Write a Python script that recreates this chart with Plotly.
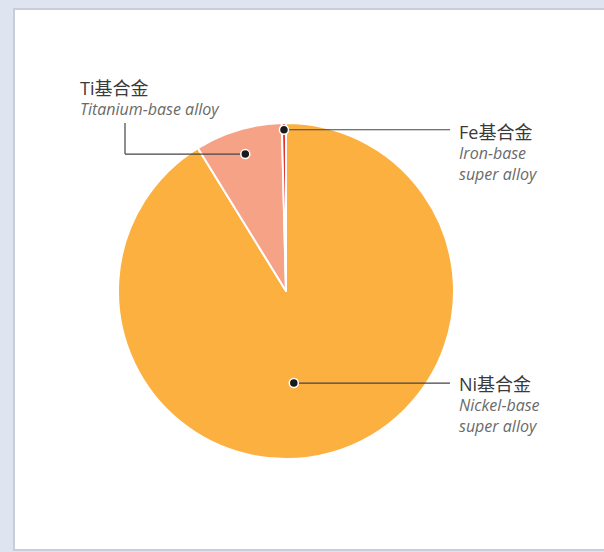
import math
import plotly.graph_objects as go

# ---- data ----
labels_cn = ["Ni基合金", "Ti基合金", "Fe基合金"]
labels_en = ["Nickel-base<br>super alloy", "Titanium-base alloy", "Iron-base<br>super alloy"]
shares = [91.2, 8.4, 0.4]
colors = ["#FCB040", "#F6A287", "#E8332C"]

W, H = 604, 552
cx, cy, R = 286, 291, 168

fig = go.Figure()

fig.add_trace(go.Pie(
    values=shares, labels=labels_cn, sort=False, direction="clockwise", rotation=0,
    marker=dict(colors=colors, line=dict(color="white", width=2)),
    textinfo="none", hoverinfo="label+percent", showlegend=False,
    domain=dict(x=[(cx - R) / W, (cx + R) / W], y=[1 - (cy + R) / H, 1 - (cy - R) / H]),
))

# slice mid angles (clockwise from 12 o'clock, degrees)
total = sum(shares)
mids = []
acc = 0
for v in shares:
    a0 = acc / total * 360
    acc += v
    a1 = acc / total * 360
    mids.append((a0 + a1) / 2)

# style: radius fraction and angle tweak for the label anchor dot
dot_style = [(0.55, 11.0), (0.85, 0.0), (0.96, 0.0)]
dots = []
for m, (rf, da) in zip(mids, dot_style):
    ang = math.radians(m + da)
    dots.append((cx + rf * R * math.sin(ang), cy - rf * R * math.cos(ang)))

# label text placement (style)
text_pos = [(459, 384), (80, 88), (459, 132)]

shapes = [
    dict(type="rect", xref="x", yref="y", x0=13, x1=610, y0=8, y1=551,
         fillcolor="#C9CDD9", line=dict(width=0), layer="below"),
    dict(type="rect", xref="x", yref="y", x0=15, x1=610, y0=10, y1=549,
         fillcolor="white", line=dict(width=0), layer="below"),
]
line_style = dict(color="#444444", width=1.2)
# Ni
shapes.append(dict(type="line", xref="x", yref="y", x0=dots[0][0], y0=dots[0][1],
                   x1=450, y1=dots[0][1], line=line_style))
# Ti: elbow
shapes.append(dict(type="line", xref="x", yref="y", x0=dots[1][0], y0=dots[1][1],
                   x1=125, y1=dots[1][1], line=line_style))
shapes.append(dict(type="line", xref="x", yref="y", x0=125, y0=dots[1][1],
                   x1=125, y1=123, line=line_style))
# Fe
shapes.append(dict(type="line", xref="x", yref="y", x0=dots[2][0], y0=dots[2][1],
                   x1=450, y1=dots[2][1], line=line_style))
# dots
rd = 4.5
for dx, dy in dots:
    shapes.append(dict(type="circle", xref="x", yref="y", x0=dx - rd, x1=dx + rd,
                       y0=dy - rd, y1=dy + rd, fillcolor="#1a1a1a",
                       line=dict(color="white", width=1.5)))

font_main = "'Open Sans', 'Noto Sans CJK SC', sans-serif"
annotations = []
for (tx, ty), cn, en in zip(text_pos, labels_cn, labels_en):
    annotations.append(dict(x=tx - 2, y=ty, xref="x", yref="y", text=cn, showarrow=False,
                            xanchor="left", yanchor="middle",
                            font=dict(family=font_main, size=18, color="#3a3a3a")))
    annotations.append(dict(x=tx - 2, y=ty + 8, xref="x", yref="y", text="<i>" + en + "</i>",
                            showarrow=False, xanchor="left", yanchor="top", align="left",
                            font=dict(family=font_main, size=16, color="#6a6a6a")))

fig.update_layout(
    width=W, height=H, margin=dict(l=0, r=0, t=0, b=0),
    paper_bgcolor="#DFE4F1", plot_bgcolor="rgba(0,0,0,0)",
    xaxis=dict(range=[0, W], visible=False, domain=[0, 1], fixedrange=True),
    yaxis=dict(range=[H, 0], visible=False, domain=[0, 1], fixedrange=True),
    shapes=shapes, annotations=annotations,
)

fig.write_html("out.html", config={"displayModeBar": False},
               post_script="document.body.style.margin='0';document.body.style.overflow='hidden';")
